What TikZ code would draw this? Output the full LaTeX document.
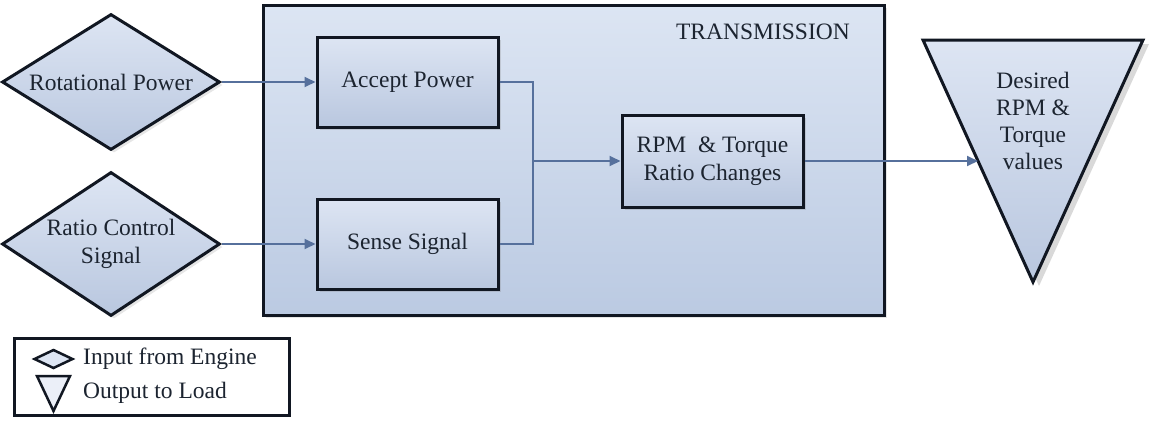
\documentclass[tikz,border=0pt]{standalone}
\usepackage{fontspec}
\setmainfont{Liberation Serif}
\usetikzlibrary{arrows.meta,shapes.geometric,shadows,calc}
\definecolor{edgeC}{HTML}{111722}
\definecolor{lineC}{HTML}{56709C}
\definecolor{fillA}{HTML}{DDE5F3}
\definecolor{fillB}{HTML}{B9C7DF}
\definecolor{tfillA}{HTML}{DCE5F3}
\definecolor{tfillB}{HTML}{BBCAE2}
\definecolor{txtC}{HTML}{1C2430}
\begin{document}
\begin{tikzpicture}[x=1pt,y=-1pt,
  every node/.style={font=\fontsize{23.5}{28}\selectfont, text=txtC},
  blk/.style={draw=edgeC, line width=3pt, rectangle, inner sep=0pt, align=center,
    top color=fillA, bottom color=fillB,
    drop shadow={opacity=0.25, shadow xshift=3pt, shadow yshift=-3pt}},
  dia/.style={draw=edgeC, line width=3pt, diamond, inner sep=0pt,
    top color=fillA, bottom color=fillB,
    drop shadow={opacity=0.2, shadow xshift=3pt, shadow yshift=-3pt}},
  lbl/.style={align=center, inner sep=0pt},
  conn/.style={draw=lineC, line width=1.8pt},
  arr/.style={conn, -{Triangle[length=11pt,width=10pt]}},
]
\useasboundingbox (0,0) rectangle (1153,421);

% transmission container
\node[draw=edgeC, line width=3pt, rectangle, inner sep=0pt,
  minimum width=621, minimum height=310, top color=tfillA, bottom color=tfillB,
  drop shadow={opacity=0.2, shadow xshift=3pt, shadow yshift=-3pt}]
  (trans) at (573.5,160) {};
\node[lbl, anchor=east] (translbl) at (850,32) {TRANSMISSION};

% inputs
\node[dia, minimum width=218, minimum height=136] (rp) at (111,82) {};
\node[lbl] (rptxt) at (rp) {Rotational Power};
\node[dia, minimum width=218, minimum height=144] (rc) at (111,244) {};
\node[lbl] (rctxt) at (rc) {Ratio Control\\Signal};

% inner blocks
\node[blk, minimum width=181, minimum height=90] (ap) at (407.5,82) {Accept Power};
\node[blk, minimum width=181, minimum height=90] (ss) at (407.5,244) {Sense Signal};
\node[blk, minimum width=181, minimum height=92] (rpm) at (712.5,161) {RPM \ \& Torque\\Ratio Changes};

% output triangle
\coordinate (tl) at (923,40);
\coordinate (tr) at (1143,40);
\coordinate (tb) at (1033,282);
\fill[black, opacity=0.15] ($(tl)+(6,4)$) -- ($(tr)+(6,4)$) -- ($(tb)+(6,4)$) -- cycle;
\draw[draw=edgeC, line width=3pt, line join=miter, top color=fillA, bottom color=fillB]
  (tl) -- (tr) -- (tb) -- cycle;
\node[lbl, font=\fontsize{23.5}{27}\selectfont] (outtxt) at (1033,121) {Desired\\RPM \&\\Torque\\values};
\coordinate (outin) at ($(tl)!0.5!(tb)$);

% connectors
\coordinate (jn) at (533,161);
\draw[arr] (rp.east) -- (ap.west);
\draw[arr] (rc.east) -- (ss.west);
\draw[conn] (ap.east) -| (jn);
\draw[conn] (ss.east) -| (jn);
\draw[arr] (jn) -- (rpm.west);
\draw[arr] (rpm.east) -- (rpm.east -| outin);

% legend
\node[draw=edgeC, line width=3pt, rectangle, fill=white, inner sep=0pt,
  minimum width=275, minimum height=77] (leg) at (151.5,376.5) {};
\node[draw=edgeC, line width=2.5pt, diamond, inner sep=0pt, fill=fillA,
  minimum width=39, minimum height=19] (legdia) at (53.5,359) {};
\draw[draw=edgeC, line width=2.5pt, fill=fillA!60] (37,376) -- (70,376) -- (53.5,411) -- cycle;
\node[lbl, anchor=west] (legin) at (83,359) {Input from Engine};
\node[lbl, anchor=west] (legout) at (83,393) {Output to Load};
\end{tikzpicture}
\end{document}
